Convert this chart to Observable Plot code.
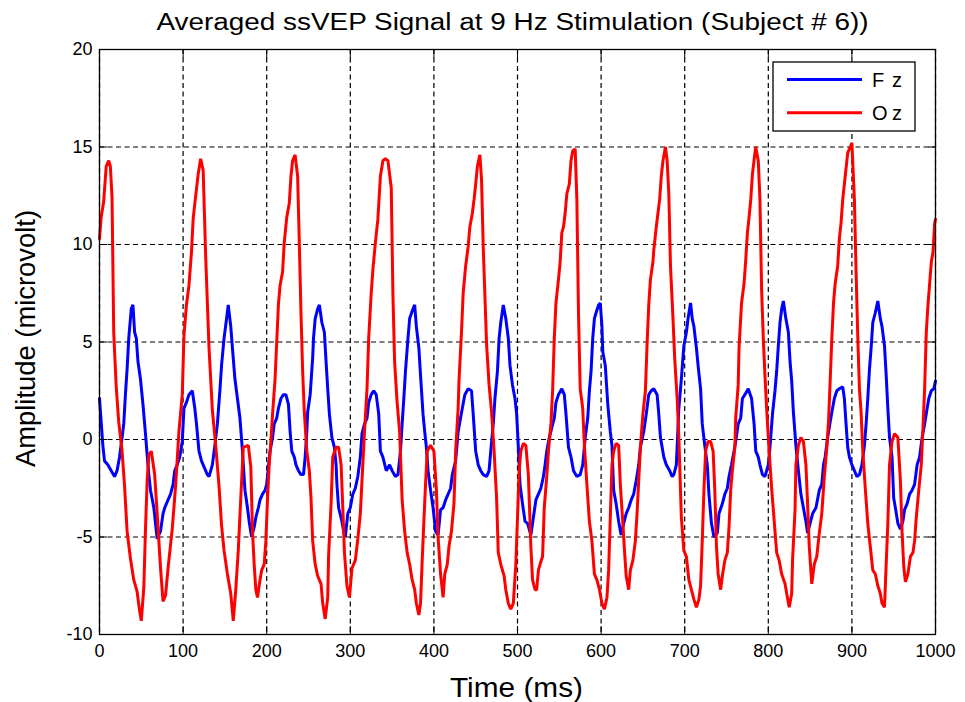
<!DOCTYPE html>
<html><head><meta charset="utf-8">
<script src="https://cdn.jsdelivr.net/npm/d3@7"></script>
<script src="https://cdn.jsdelivr.net/npm/@observablehq/plot@0.6"></script>
<style>
html,body{margin:0;padding:0;background:#fff;}
#chart{width:965px;height:702px;}
</style></head><body><div id="chart"></div>
<script>
const title = "Averaged ssVEP Signal at 9 Hz Stimulation (Subject # 6))";
const xLabel = "Time (ms)";
const yLabel = "Amplitude (microvolt)";
const seriesNames = ["Fz", "Oz"];
const seriesColors = ["#0000ff", "#ff0000"];
const xTicks = [0,100,200,300,400,500,600,700,800,900,1000];
const yTicks = [-10,-5,0,5,10,15,20];

const timeFz = [0,2,4,6,10,14,18,21,24,27,29,31,33,35,38,40,42,44,46,49,52,55,57,59,61,65,67,69,73,76,78,82,85,88,90,93,96,99,101,104,107,111,114,116,119,122,125,129,131,135,138,141,144,146,149,152,154,157,159,162,165,168,171,174,177,179,182,185,187,190,192,195,198,200,202,204,207,209,212,214,217,220,223,226,228,230,233,235,238,241,244,246,248,249,252,255,256,258,261,263,266,269,271,273,275,278,281,283,284,286,290,292,294,297,300,303,306,309,312,314,317,320,322,325,328,331,334,336,339,343,347,350,354,357,360,362,364,366,369,371,375,377,379,382,384,387,389,391,393,396,399,402,405,408,411,414,417,420,422,426,429,431,434,437,441,445,447,450,453,456,459,463,466,468,471,473,476,478,480,483,486,489,491,494,497,499,501,503,506,509,512,516,519,522,525,528,531,533,535,538,541,544,546,549,553,556,558,561,564,567,571,575,578,581,584,586,588,590,592,594,597,599,601,602,605,608,611,613,615,618,621,624,627,630,633,636,639,642,645,647,651,654,657,660,663,667,669,671,675,678,682,685,687,690,693,696,699,702,704,707,709,711,714,716,719,721,724,727,729,732,735,739,741,745,748,751,753,756,759,761,764,767,769,772,776,780,783,785,788,790,793,796,800,802,805,808,810,812,814,816,818,821,824,826,828,830,833,836,839,842,845,847,850,853,857,861,864,866,868,871,874,876,879,882,885,889,891,893,895,897,900,903,906,909,912,915,917,919,921,923,925,928,931,934,936,939,941,943,945,948,950,952,955,958,961,963,966,969,972,975,978,981,984,987,990,992,995,998,1000];
const fz = [2.1,0.9,-0.3,-1.1,-1.3,-1.6,-1.9,-1.6,-0.9,0.1,0.8,2.3,3.6,5.2,6.7,6.9,5.5,5.2,4.0,3.1,1.8,0.3,-0.8,-1.8,-2.6,-3.5,-4.3,-5.1,-4.7,-3.8,-3.5,-3.1,-2.8,-2.3,-1.6,-1.3,-0.9,-0.1,1.6,1.9,2.3,2.5,1.6,0.8,-0.6,-1.1,-1.4,-1.8,-1.9,-1.3,-0.3,0.8,2.5,3.8,5.2,6.2,6.9,5.8,4.7,3.1,2.1,1.1,-0.6,-2.6,-3.5,-4.2,-5.0,-4.5,-4.0,-3.5,-3.1,-2.8,-2.6,-2.3,-1.4,-0.6,0.1,0.8,1.1,1.6,2.1,2.3,2.3,1.8,0.4,-0.6,-0.9,-1.3,-1.6,-1.8,-1.8,-0.9,0.4,1.4,2.3,4.2,5.2,6.2,6.7,6.9,6.0,5.5,4.0,2.6,1.3,0.1,-0.4,-1.3,-2.3,-3.5,-4.2,-4.7,-5.0,-3.8,-3.5,-2.8,-2.5,-1.9,-0.9,0.3,0.8,1.1,1.9,2.3,2.5,2.3,1.3,-0.6,-0.9,-1.6,-1.3,-1.6,-1.9,-1.8,-0.6,0.8,2.1,3.5,5.2,6.2,6.7,6.9,5.8,4.7,3.3,1.3,0.4,-0.4,-1.6,-2.6,-3.5,-4.7,-4.9,-3.6,-3.5,-3.1,-2.8,-2.5,-1.8,-1.1,0.4,0.9,1.6,2.3,2.6,2.5,1.3,-0.6,-1.3,-1.6,-1.8,-1.9,-1.6,-0.6,0.8,2.1,3.5,5.2,6.0,6.9,6.2,5.2,3.8,2.8,2.1,1.3,-0.4,-2.3,-3.3,-4.2,-4.3,-4.9,-4.0,-3.1,-2.8,-2.5,-1.9,-1.3,-0.6,0.1,0.6,1.1,1.9,2.3,2.6,2.3,1.3,-0.4,-0.9,-1.6,-1.9,-1.8,-1.3,0.1,1.1,2.5,3.5,5.2,6.2,6.5,6.9,7.0,5.8,4.5,3.8,1.8,0.4,-0.3,-2.6,-3.3,-4.2,-4.9,-4.3,-3.8,-3.5,-3.1,-2.8,-2.1,-1.3,-0.4,0.4,1.3,2.3,2.5,2.6,2.3,1.3,0.1,-0.9,-1.3,-1.6,-1.9,-1.8,-1.3,1.6,3.1,4.8,5.5,6.2,7.0,6.2,5.8,4.7,3.8,2.6,0.8,-0.3,-1.3,-2.8,-4.3,-5.0,-4.8,-3.8,-3.3,-2.8,-2.5,-1.9,-1.3,-0.6,-0.1,0.8,1.1,2.1,2.3,2.6,2.1,0.8,-0.6,-0.9,-1.3,-1.8,-1.9,-1.3,-0.4,1.3,2.5,3.5,4.8,6.0,6.7,7.1,6.2,5.5,4.0,3.0,1.4,-0.3,-1.6,-2.8,-3.5,-4.2,-4.8,-4.3,-3.8,-3.5,-2.6,-2.3,-1.3,-0.9,0.1,0.9,1.4,2.1,2.5,2.6,2.7,2.1,0.8,-0.4,-0.9,-1.3,-1.6,-1.9,-1.8,-1.3,-0.3,0.8,2.1,3.6,4.7,6.0,6.5,7.1,6.2,5.8,4.8,3.3,1.6,0.1,-0.9,-3.0,-3.5,-4.3,-4.6,-4.2,-3.6,-3.3,-2.8,-2.6,-2.3,-1.3,-0.9,0.1,0.8,1.6,2.1,2.5,2.6,3.0];

const timeOz = [0,2,5,8,11,13,15,17,20,23,27,30,33,37,41,45,48,50,53,55,57,59,62,66,69,73,76,79,82,87,91,95,99,101,104,107,110,112,114,118,121,124,127,131,135,139,143,146,149,153,157,160,163,166,169,172,178,181,183,185,187,189,192,194,197,199,201,203,205,207,210,212,214,216,219,221,224,227,229,231,234,237,239,241,243,245,248,251,253,255,258,261,265,267,270,273,274,277,279,283,286,289,291,293,296,299,302,306,309,312,314,317,320,322,325,327,330,333,336,339,342,345,349,351,353,356,359,362,365,368,371,374,377,379,382,384,386,388,390,392,396,400,403,405,408,411,413,416,418,421,424,426,429,430,433,435,438,441,443,446,448,450,452,455,457,459,461,463,466,469,472,475,477,480,484,486,489,492,495,498,500,502,504,507,510,513,516,518,521,523,525,527,530,532,535,537,540,542,544,546,549,551,553,555,557,559,562,564,566,569,571,573,575,578,580,583,586,589,592,595,598,601,604,607,609,611,613,615,618,621,623,626,628,630,633,635,638,641,643,645,647,650,653,655,657,659,662,663,666,668,670,672,674,677,679,681,683,686,688,691,693,696,699,702,705,708,711,714,717,719,721,723,725,728,731,734,736,738,740,743,745,748,751,753,755,757,760,761,764,765,768,771,773,775,777,779,781,784,785,788,790,792,794,796,798,801,804,808,810,813,816,820,822,825,828,829,832,833,836,839,842,845,847,849,852,855,858,861,864,867,870,872,874,876,878,880,883,885,887,889,892,895,898,900,903,905,907,909,911,913,916,919,922,925,928,931,934,936,939,941,943,945,948,951,955,958,960,962,964,967,970,973,975,977,980,983,985,987,989,991,993,995,997,999,1000];
const oz = [10.3,11.4,12.2,14.0,14.3,14.0,12.4,5.5,2.7,0.9,-0.6,-2.4,-4.7,-6.1,-7.2,-7.8,-8.8,-9.3,-7.6,-4.6,-2.1,-0.8,-0.6,-1.8,-3.8,-6.6,-8.3,-8.0,-6.6,-4.6,-2.4,0.4,2.3,5.3,6.9,7.9,9.6,11.3,12.1,13.6,14.4,13.8,9.4,4.7,1.5,-0.3,-2.4,-4.4,-5.7,-6.9,-7.9,-9.3,-7.7,-5.7,-3.0,-0.4,-0.3,-1.4,-4.7,-6.4,-7.7,-8.1,-7.2,-6.7,-6.4,-5.2,-3.0,-1.3,-0.1,1.3,3.1,5.0,6.9,7.9,8.6,10.1,11.4,12.1,13.5,14.3,14.6,13.5,10.1,6.5,3.5,1.4,-0.6,-1.6,-3.0,-5.2,-6.4,-7.0,-7.4,-8.4,-9.2,-8.1,-6.0,-3.3,-0.9,-0.4,-0.4,-1.3,-3.5,-5.8,-7.5,-8.1,-6.6,-6.2,-5.1,-3.8,-2.1,0.4,2.6,5.2,7.5,8.7,10.1,11.3,13.5,14.3,14.4,14.3,12.9,7.4,4.0,1.9,0.4,-3.1,-4.7,-5.8,-6.4,-7.2,-7.7,-8.4,-9.0,-8.4,-6.2,-4.2,-2.3,-0.6,-0.3,-0.6,-2.6,-5.0,-6.9,-8.1,-6.9,-6.4,-5.5,-4.7,-3.3,-0.6,1.6,3.0,5.5,7.5,8.9,9.9,10.9,11.6,12.3,13.1,14.0,14.6,13.3,9.9,7.4,4.9,2.8,1.4,-0.6,-3.0,-5.8,-6.4,-7.0,-7.7,-8.4,-8.7,-8.4,-6.4,-4.0,-1.6,-0.6,-0.2,-0.3,-1.8,-5.5,-7.2,-7.7,-7.7,-6.7,-6.4,-6.0,-3.5,-1.9,-0.6,0.8,2.5,5.2,7.0,8.2,9.1,10.6,10.9,11.6,12.6,13.1,14.3,14.8,14.9,12.3,6.4,2.6,1.6,-0.3,-2.3,-4.2,-5.2,-6.9,-7.2,-7.7,-8.4,-8.7,-8.1,-6.7,-4.0,-1.3,-0.6,-0.2,-0.3,-2.3,-4.3,-5.7,-7.0,-7.7,-6.7,-6.2,-5.2,-3.8,-2.1,-0.4,1.3,2.5,4.9,6.9,8.2,9.1,9.7,10.9,11.6,12.3,13.5,14.3,15.0,14.3,12.6,8.9,6.2,4.2,2.1,0.1,-4.0,-5.7,-6.0,-7.2,-7.7,-8.2,-8.6,-8.2,-7.5,-5.2,-2.6,-0.6,-0.1,-0.1,-0.6,-2.6,-5.5,-6.9,-7.7,-7.0,-6.2,-5.8,-4.5,-2.6,-1.6,-0.4,1.1,2.8,4.7,7.0,8.0,9.2,10.6,11.4,12.3,13.6,14.7,15.0,14.3,12.3,7.7,5.2,3.3,1.6,-0.6,-2.5,-4.7,-5.8,-6.2,-6.9,-7.4,-7.9,-8.6,-7.9,-6.2,-3.6,-1.3,-0.3,0.1,-0.1,-1.3,-3.3,-5.5,-7.4,-6.4,-6.0,-4.8,-3.8,-1.9,-0.4,0.9,3.0,5.2,7.0,8.0,8.9,10.3,11.1,12.3,13.5,14.7,15.0,15.2,12.3,8.6,5.3,2.6,1.4,-0.6,-2.5,-4.3,-5.5,-6.7,-6.9,-7.5,-7.9,-8.4,-8.6,-6.4,-4.3,-1.3,-0.1,0.3,0.1,-2.1,-4.7,-6.5,-7.3,-6.9,-6.0,-5.8,-5.2,-4.0,-2.6,-1.3,0.6,2.6,5.5,6.9,8.0,9.1,9.6,11.1,11.3];

const rowsFz = timeFz.map((t, i) => ({t, v: fz[i], series: seriesNames[0]}));
const rowsOz = timeOz.map((t, i) => ({t, v: oz[i], series: seriesNames[1]}));

const W = 965, H = 702;
const font = "'Liberation Sans', Arial, Helvetica, sans-serif";
const fmt = d => String(d);
const chart = Plot.plot({
  width: W, height: H,
  marginLeft: 99, marginRight: 30, marginTop: 49, marginBottom: 68,
  style: {fontFamily: font, fontSize: "18px", color: "#000", background: "#fff", overflow: "visible"},
  x: {domain: [0, 1000]},
  y: {domain: [-10, 20]},
  marks: [
    Plot.gridX(xTicks, {stroke: "#000", strokeOpacity: 1, strokeWidth: 1.2, strokeDasharray: "5,3.5"}),
    Plot.gridY(yTicks, {stroke: "#000", strokeOpacity: 1, strokeWidth: 1.2, strokeDasharray: "5,3.5"}),
    Plot.line(rowsFz, {x: "t", y: "v", stroke: seriesColors[0], strokeWidth: 3, strokeLinejoin: "miter"}),
    Plot.line(rowsOz, {x: "t", y: "v", stroke: seriesColors[1], strokeWidth: 3, strokeLinejoin: "miter"}),
    Plot.frame({stroke: "#000", strokeWidth: 1.3}),
    Plot.axisX(xTicks, {anchor: "bottom", tickSize: 0, tickPadding: 10, label: null, fontSize: 18, tickFormat: fmt}),
    Plot.axisX(xTicks, {anchor: "bottom", tickSize: -8, tickFormat: () => "", label: null}),
    Plot.axisX(xTicks, {anchor: "top", tickSize: -8, tickFormat: () => "", label: null}),
    Plot.axisY(yTicks, {anchor: "left", tickSize: 0, tickPadding: 7, label: null, fontSize: 18, tickFormat: fmt}),
    Plot.axisY(yTicks, {anchor: "left", tickSize: -8, tickFormat: () => "", label: null}),
    Plot.axisY(yTicks, {anchor: "right", tickSize: -8, tickFormat: () => "", label: null})
  ]
});

const svg = d3.select(chart);
// Title
svg.append("text").attr("x", 512.5).attr("y", 30).attr("text-anchor", "middle")
  .attr("font-family", font).attr("font-size", 23).attr("fill", "#000")
  .attr("textLength", 712).attr("lengthAdjust", "spacingAndGlyphs").text(title);
// X label
svg.append("text").attr("x", 516.5).attr("y", 697).attr("text-anchor", "middle")
  .attr("font-family", font).attr("font-size", 27).attr("fill", "#000")
  .attr("textLength", 133).attr("lengthAdjust", "spacingAndGlyphs").text(xLabel);
// Y label
svg.append("text").attr("transform", "translate(35,338.5) rotate(-90)").attr("text-anchor", "middle")
  .attr("font-family", font).attr("font-size", 27).attr("fill", "#000")
  .attr("textLength", 257).attr("lengthAdjust", "spacingAndGlyphs").text(yLabel);
// Legend
const lg = svg.append("g");
lg.append("rect").attr("x", 773).attr("y", 62).attr("width", 142).attr("height", 69)
  .attr("fill", "#fff").attr("stroke", "#000").attr("stroke-width", 1.3);
seriesNames.forEach((name, i) => {
  const yy = 79.5 + i * 33.3;
  lg.append("line").attr("x1", 787).attr("x2", 862).attr("y1", yy).attr("y2", yy)
    .attr("stroke", seriesColors[i]).attr("stroke-width", 3);
  lg.append("text").attr("x", 872).attr("y", yy).attr("dy", "0.36em")
    .attr("text-anchor", "start")
    .attr("font-family", font).attr("font-size", 20).attr("fill", "#000")
    .attr("textLength", 30).attr("lengthAdjust", "spacing").text(name);
});

document.getElementById("chart").appendChild(chart);
</script>
</body></html>
